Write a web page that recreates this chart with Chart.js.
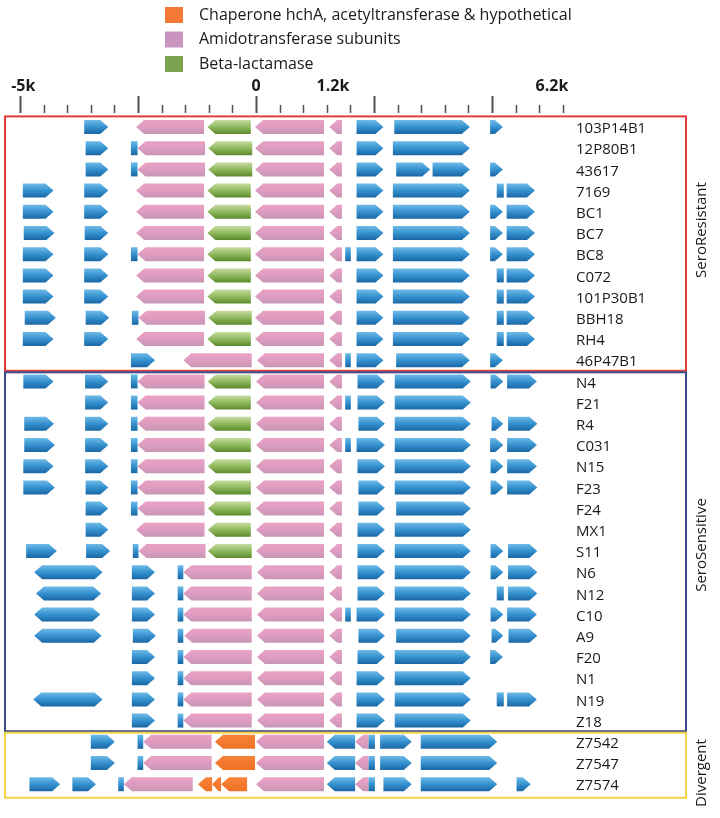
<!DOCTYPE html>
<html>
<head>
<meta charset="utf-8">
<script src="https://cdn.jsdelivr.net/npm/chart.js@4"></script>
<style>
  body { margin: 0; background: #fff; }
</style>
</head>
<body>
<canvas id="genes" width="720" height="818"></canvas>
<script>
// strains, top to bottom
const strains = ['103P14B1', '12P80B1', '43617', '7169', 'BC1', 'BC7', 'BC8', 'C072', '101P30B1', 'BBH18', 'RH4', '46P47B1',
    'N4', 'F21', 'R4', 'C031', 'N15', 'F23', 'F24', 'MX1', 'S11', 'N6', 'N12', 'C10', 'A9', 'F20', 'N1', 'N19', 'Z18',
    'Z7542', 'Z7547', 'Z7574'];
const groups = ['SeroResistant', 'SeroSensitive', 'Divergent'];
const groupSizes = [12, 17, 3];
const legendLabels = ['Chaperone hchA, acetyltransferase & hypothetical', 'Amidotransferase subunits', 'Beta-lactamase'];
const rulerLabels = ['-5k', '0', '1.2k', '6.2k'];
const rulerLabelAt = [-4.93, 0, 1.63, 6.27];   // kb, where each label sits

// genes as [strain index, start kb, end kb]
const blueRight = [
    [0, -3.64, -3.13], [0, 2.13, 2.70], [0, 2.93, 4.53], [0, 4.96, 5.23],
    [1, -3.61, -3.13], [1, 2.13, 2.70], [1, 2.90, 4.53],
    [2, -3.61, -3.13], [2, 2.13, 2.70], [2, 2.97, 3.69], [2, 3.74, 4.53], [2, 4.96, 5.23],
    [3, -4.94, -4.29], [3, -3.64, -3.13], [3, 2.13, 2.70], [3, 2.90, 4.53], [3, 5.31, 5.91],
    [4, -4.94, -4.29], [4, -3.64, -3.13], [4, 2.13, 2.70], [4, 2.90, 4.53], [4, 4.96, 5.23], [4, 5.31, 5.91],
    [5, -4.92, -4.27], [5, -3.63, -3.13], [5, 2.13, 2.70], [5, 2.90, 4.53], [5, 4.96, 5.23], [5, 5.31, 5.91],
    [6, -4.94, -4.29], [6, -3.64, -3.13], [6, 2.13, 2.70], [6, 2.90, 4.53], [6, 4.96, 5.23], [6, 5.31, 5.91],
    [7, -4.94, -4.29], [7, -3.64, -3.13], [7, 2.13, 2.70], [7, 2.90, 4.53], [7, 5.31, 5.91],
    [8, -4.94, -4.29], [8, -3.64, -3.13], [8, 2.13, 2.70], [8, 2.90, 4.53], [8, 5.31, 5.91],
    [9, -4.90, -4.24], [9, -3.61, -3.11], [9, 2.13, 2.70], [9, 2.90, 4.53], [9, 5.31, 5.91],
    [10, -4.94, -4.29], [10, -3.64, -3.13], [10, 2.13, 2.70], [10, 2.90, 4.53], [10, 5.31, 5.91],
    [11, -2.65, -2.14], [11, 2.13, 2.70], [11, 2.97, 4.53], [11, 4.96, 5.23],
    [12, -4.93, -4.29], [12, -3.62, -3.13], [12, 2.15, 2.73], [12, 2.94, 4.55], [12, 4.97, 5.24], [12, 5.32, 5.95],
    [13, -3.62, -3.13], [13, 2.15, 2.73], [13, 2.94, 4.55],
    [14, -4.91, -4.28], [14, -3.62, -3.13], [14, 2.17, 2.73], [14, 2.94, 4.55], [14, 4.99, 5.24], [14, 5.34, 5.96],
    [15, -4.91, -4.26], [15, -3.62, -3.13], [15, 2.13, 2.73], [15, 2.94, 4.55], [15, 4.96, 5.24], [15, 5.32, 5.95],
    [16, -4.93, -4.29], [16, -3.62, -3.13], [16, 2.15, 2.73], [16, 2.94, 4.55], [16, 4.97, 5.24], [16, 5.32, 5.95],
    [17, -4.93, -4.26], [17, -3.61, -3.13], [17, 2.17, 2.73], [17, 2.94, 4.55], [17, 4.97, 5.24], [17, 5.32, 5.96],
    [18, -3.61, -3.13], [18, 2.17, 2.73], [18, 2.97, 4.55],
    [19, -3.61, -3.13], [19, 2.15, 2.73], [19, 2.94, 4.55],
    [20, -4.87, -4.22], [20, -3.60, -3.09], [20, 2.15, 2.73], [20, 2.94, 4.55], [20, 4.97, 5.24], [20, 5.34, 5.96],
    [21, -2.63, -2.14], [21, 2.15, 2.73], [21, 2.94, 4.55], [21, 4.97, 5.24], [21, 5.34, 5.96],
    [22, -2.63, -2.14], [22, 2.15, 2.73], [22, 2.94, 4.55], [22, 5.34, 5.96],
    [23, -2.63, -2.14], [23, 2.13, 2.73], [23, 2.94, 4.55], [23, 4.97, 5.24], [23, 5.32, 5.95],
    [24, -2.61, -2.12], [24, 2.17, 2.73], [24, 2.97, 4.55], [24, 4.99, 5.24], [24, 5.35, 5.96],
    [25, -2.63, -2.14], [25, 2.15, 2.73], [25, 2.94, 4.55], [25, 4.96, 5.23],
    [26, -2.63, -2.14], [26, 2.13, 2.73], [26, 2.94, 4.55],
    [27, -2.63, -2.14], [27, 2.13, 2.73], [27, 2.94, 4.55], [27, 5.32, 5.95],
    [28, -2.63, -2.14], [28, 2.13, 2.73], [28, 2.94, 4.55],
    [29, -3.50, -2.99], [29, 2.63, 3.30], [29, 3.49, 5.11],
    [30, -3.50, -2.99], [30, 2.63, 3.30], [30, 3.49, 5.11],
    [31, -4.80, -4.15], [31, -3.89, -3.39], [31, 2.70, 3.30], [31, 3.49, 5.11], [31, 5.52, 5.82]
];
const blueHex = [[21, -4.70, -3.25], [22, -4.66, -3.28], [23, -4.70, -3.30], [24, -4.70, -3.27], [27, -4.72, -3.25]];
const blueLeft = [[29, 1.50, 2.10], [30, 1.50, 2.10], [31, 1.50, 2.10]];
const blueBar = [
    [1, -2.65, -2.51], [2, -2.65, -2.51], [6, -2.65, -2.51], [9, -2.63, -2.49], [12, -2.65, -2.51], [13, -2.65, -2.51],
    [14, -2.65, -2.51], [15, -2.65, -2.51], [16, -2.65, -2.51], [17, -2.65, -2.51], [18, -2.65, -2.51], [20, -2.61, -2.49],
    [6, 1.89, 2.01], [11, 1.89, 2.01], [13, 1.89, 2.01], [15, 1.89, 2.01], [23, 1.89, 2.01],
    [3, 5.10, 5.25], [7, 5.10, 5.25], [8, 5.10, 5.25], [9, 5.10, 5.25], [10, 5.10, 5.25], [22, 5.10, 5.25], [27, 5.10, 5.25],
    [21, -1.66, -1.54], [22, -1.66, -1.54], [23, -1.66, -1.54], [24, -1.66, -1.54], [25, -1.66, -1.54], [26, -1.66, -1.54],
    [27, -1.66, -1.54], [28, -1.66, -1.54],
    [29, -2.51, -2.39], [30, -2.51, -2.39], [31, -2.92, -2.80],
    [29, 2.38, 2.52], [30, 2.38, 2.52], [31, 2.38, 2.52]
];
const pinkLeft = [
    [0, -2.54, -1.10], [1, -2.51, -1.08], [2, -2.51, -1.08], [3, -2.54, -1.10], [4, -2.54, -1.10], [5, -2.54, -1.10],
    [6, -2.51, -1.10], [7, -2.54, -1.10], [8, -2.54, -1.10], [9, -2.49, -1.08], [10, -2.54, -1.10],
    [12, -2.51, -1.09], [13, -2.51, -1.09], [14, -2.51, -1.09], [15, -2.51, -1.09], [16, -2.51, -1.09], [17, -2.51, -1.09],
    [18, -2.51, -1.09], [19, -2.54, -1.09], [20, -2.49, -1.07],
    [11, -1.54, -0.09], [21, -1.54, -0.09], [22, -1.54, -0.09], [23, -1.54, -0.09], [24, -1.52, -0.09], [25, -1.54, -0.09],
    [26, -1.54, -0.09], [27, -1.54, -0.09], [28, -1.54, -0.09],
    [0, -0.02, 1.44], [1, -0.02, 1.44], [2, -0.02, 1.44], [3, -0.02, 1.44], [4, -0.02, 1.44], [5, -0.02, 1.44],
    [6, -0.02, 1.44], [7, -0.02, 1.44], [8, -0.02, 1.44], [9, -0.02, 1.44], [10, -0.02, 1.44], [11, 0.02, 1.44],
    [12, 0.0, 1.44], [13, 0.0, 1.44], [14, 0.0, 1.44], [15, 0.0, 1.44], [16, 0.0, 1.44], [17, 0.0, 1.44], [18, 0.0, 1.44],
    [19, 0.0, 1.44], [20, 0.0, 1.44], [21, 0.02, 1.44], [22, 0.02, 1.44], [23, 0.02, 1.44], [24, 0.02, 1.44],
    [25, 0.02, 1.44], [26, 0.02, 1.44], [27, 0.02, 1.44], [28, 0.02, 1.44], [29, 0.0, 1.44], [30, 0.0, 1.44], [31, 0.0, 1.44],
    [0, 1.55, 1.82], [1, 1.55, 1.82], [2, 1.55, 1.82], [3, 1.55, 1.82], [4, 1.55, 1.82], [5, 1.55, 1.82], [6, 1.55, 1.82],
    [7, 1.55, 1.82], [8, 1.55, 1.82], [9, 1.55, 1.82], [10, 1.55, 1.82], [11, 1.55, 1.82], [12, 1.55, 1.82],
    [13, 1.55, 1.82], [14, 1.55, 1.82], [15, 1.55, 1.82], [16, 1.55, 1.82], [17, 1.55, 1.82], [18, 1.55, 1.82],
    [19, 1.55, 1.82], [20, 1.55, 1.82], [21, 1.55, 1.82], [22, 1.55, 1.82], [23, 1.55, 1.82], [24, 1.55, 1.82],
    [25, 1.55, 1.82], [26, 1.55, 1.82], [27, 1.55, 1.82], [28, 1.55, 1.82],
    [29, -2.39, -0.94], [30, -2.39, -0.94], [31, -2.80, -1.34],
    [29, 2.10, 2.38], [30, 2.10, 2.38], [31, 2.10, 2.38]
];
const greenLeft = [
    [0, -1.03, -0.11], [1, -1.01, -0.08], [2, -1.01, -0.08], [3, -1.03, -0.11], [4, -1.03, -0.11], [5, -1.03, -0.11],
    [6, -1.03, -0.11], [7, -1.03, -0.11], [8, -1.03, -0.11], [9, -1.01, -0.09], [10, -1.03, -0.11],
    [12, -1.02, -0.11], [13, -1.02, -0.11], [14, -1.02, -0.11], [15, -1.02, -0.11], [16, -1.02, -0.11],
    [17, -1.02, -0.11], [18, -1.02, -0.11], [19, -1.02, -0.11], [20, -1.02, -0.09]
];
const orangeLeft = [[29, -0.87, -0.02], [30, -0.87, -0.02], [31, -1.23, -0.93], [31, -0.93, -0.74], [31, -0.74, -0.19]];

const fills = {
    blue: ['#70bbe8', '#3591cf', '#1a67a4'],
    pink: ['#eaa2c4', '#dd9cc0', '#c896b6'],
    green: ['#c6dca2', '#90b95e', '#5a8a2b'],
    orange: ['#f7843a', '#f47a2e', '#ef7226']
};
const legendColors = ['#f47a36', '#c995bf', '#7ba24f'];
const groupColors = ['#e33d3a', '#3d4a8a', '#f3d448'];

function toPoints(list) {
    return list.map(g => ({ x: [g[1], g[2]], y: strains[g[0]] }));
}

function geneSet(list, shape, color) {
    return { data: toPoints(list), shape: shape, color: color, grouped: false, barThickness: 14, backgroundColor: fills[color][1] };
}

const geneArrows = {
    id: 'geneArrows',
    beforeDatasetDraw(chart, args) {
        const ds = chart.data.datasets[args.index];
        const ctx = chart.ctx;
        args.meta.data.forEach(el => {
            const p = el.getProps(['x', 'y', 'base', 'height'], true);
            const l = Math.min(p.x, p.base), r = Math.max(p.x, p.base);
            const t = p.y - p.height / 2, b = p.y + p.height / 2;
            const head = Math.min(8, (r - l) * 0.75);
            const g = ctx.createLinearGradient(0, t, 0, b);
            g.addColorStop(0, fills[ds.color][0]);
            g.addColorStop(0.5, fills[ds.color][1]);
            g.addColorStop(1, fills[ds.color][2]);
            ctx.beginPath();
            if (ds.shape === 'right') {
                ctx.moveTo(l, t); ctx.lineTo(r - head, t); ctx.lineTo(r, p.y);
                ctx.lineTo(r - head, b); ctx.lineTo(l, b);
            } else if (ds.shape === 'left') {
                ctx.moveTo(r, t); ctx.lineTo(l + head, t); ctx.lineTo(l, p.y);
                ctx.lineTo(l + head, b); ctx.lineTo(r, b);
            } else if (ds.shape === 'hex') {
                ctx.moveTo(l + head, t); ctx.lineTo(r - head, t); ctx.lineTo(r, p.y);
                ctx.lineTo(r - head, b); ctx.lineTo(l + head, b); ctx.lineTo(l, p.y);
            } else {
                ctx.rect(l, t, r - l, b - t);
            }
            ctx.closePath();
            ctx.fillStyle = g;
            ctx.fill();
        });
        return false;
    },
    afterDraw(chart) {
        const ctx = chart.ctx;
        const xs = chart.scales.x, ys = chart.scales.y;
        const step = (ys.getPixelForValue(1) - ys.getPixelForValue(0));

        // legend
        ctx.font = '16px "Open Sans"';
        ctx.textBaseline = 'middle';
        ctx.textAlign = 'left';
        legendLabels.forEach((txt, i) => {
            const cy = 15 + i * 24.5;
            ctx.fillStyle = legendColors[i];
            ctx.fillRect(165, cy - 8, 18, 16);
            ctx.fillStyle = '#1a1a1a';
            ctx.fillText(txt, 199, cy);
        });

        // ruler
        ctx.strokeStyle = '#505050';
        for (let v = -5; v <= 6.5001; v += 0.5) {
            const px = Math.round(xs.getPixelForValue(v)) + 0.5;
            const major = Math.abs(v / 2.5 - Math.round(v / 2.5)) < 1e-6;
            ctx.lineWidth = major ? 2 : 1.5;
            ctx.beginPath();
            ctx.moveTo(px, major ? 96 : 105);
            ctx.lineTo(px, 113);
            ctx.stroke();
        }
        ctx.font = 'bold 16px "Open Sans"';
        ctx.textAlign = 'center';
        ctx.fillStyle = '#1a1a1a';
        rulerLabels.forEach((txt, i) => ctx.fillText(txt, xs.getPixelForValue(rulerLabelAt[i]), 86));

        // group boxes and labels
        let first = 0;
        groups.forEach((name, gi) => {
            const top = ys.getPixelForValue(first) - step / 2 + (gi ? 1.5 : 0);
            const bottom = ys.getPixelForValue(first + groupSizes[gi] - 1) + step / 2 + (gi === 2 ? 3 : 0);
            ctx.strokeStyle = groupColors[gi];
            ctx.lineWidth = 2;
            ctx.strokeRect(chart.chartArea.left + 1, top, chart.chartArea.right - chart.chartArea.left - 1, bottom - top);
            const mid = [230, 545, 773][gi];
            ctx.save();
            ctx.translate(702, mid);
            ctx.rotate(-Math.PI / 2);
            ctx.font = '15px "Open Sans"';
            ctx.textAlign = 'center';
            ctx.fillStyle = '#1a1a1a';
            ctx.fillText(name, 0, 0);
            ctx.restore();
            first += groupSizes[gi];
        });

        // strain labels
        ctx.font = '15px "Open Sans"';
        ctx.textAlign = 'left';
        ctx.fillStyle = '#1a1a1a';
        strains.forEach((s, i) => ctx.fillText(s, 576, ys.getPixelForValue(i) + 2));
    }
};

new Chart(document.getElementById('genes'), {
    type: 'bar',
    data: {
        labels: strains,
        datasets: [
            geneSet(pinkLeft, 'left', 'pink'),
            geneSet(greenLeft, 'left', 'green'),
            geneSet(orangeLeft, 'left', 'orange'),
            geneSet(blueRight, 'right', 'blue'),
            geneSet(blueLeft, 'left', 'blue'),
            geneSet(blueHex, 'hex', 'blue'),
            geneSet(blueBar, 'bar', 'blue')
        ]
    },
    options: {
        indexAxis: 'y',
        responsive: false,
        animation: false,
        layout: { padding: { left: 4, right: 34, top: 116.4, bottom: 23.2 } },
        scales: {
            x: { type: 'linear', min: -5.339, max: 9.110, display: false },
            y: { display: false }
        },
        plugins: {
            legend: { display: false },
            tooltip: { enabled: false }
        }
    },
    plugins: [geneArrows]
});
</script>
</body>
</html>
